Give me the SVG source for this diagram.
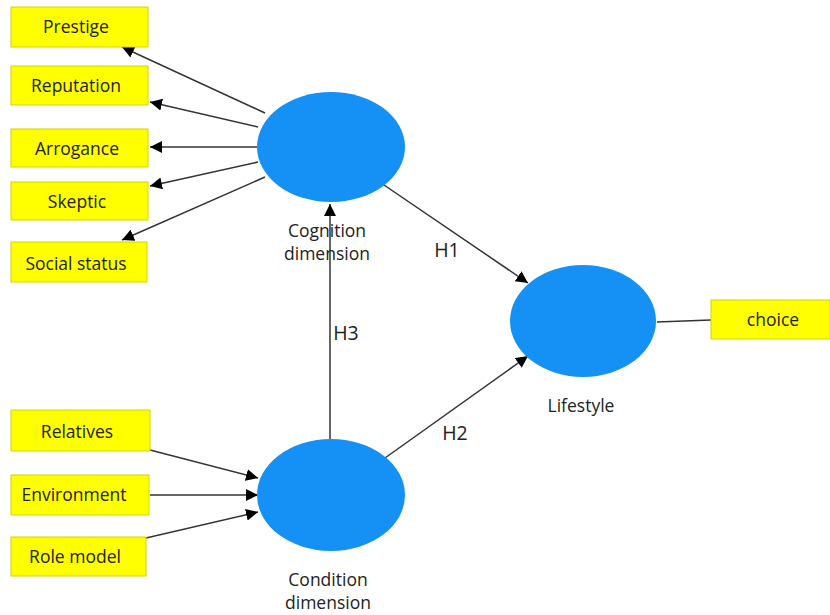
<svg xmlns="http://www.w3.org/2000/svg" width="830" height="615" viewBox="0 0 830 615">
<style>
.box{fill:#ffff00;stroke:#d4d400;stroke-width:1}
.lv{fill:#1590f5}
.t{font-family:"Open Sans","Noto Sans",sans-serif;font-size:17.5px;fill:#222;text-anchor:middle}
.h{font-size:19.5px}
.c{stroke:#333;stroke-width:1.5;fill:none}
</style>
<defs>
<marker id="ah" viewBox="0 0 10 10" refX="10" refY="5" markerWidth="12" markerHeight="12" markerUnits="userSpaceOnUse" orient="auto">
<path d="M0,0 L10,5 L0,10 z" fill="#000"/>
</marker>
</defs>
<rect width="830" height="615" fill="#fff"/>
<g id="connectors">
<line class="c" x1="265" y1="113" x2="122" y2="47" marker-end="url(#ah)"/>
<line class="c" x1="258" y1="127" x2="150" y2="102" marker-end="url(#ah)"/>
<line class="c" x1="257" y1="147" x2="150" y2="147" marker-end="url(#ah)"/>
<line class="c" x1="258" y1="162" x2="150" y2="186" marker-end="url(#ah)"/>
<line class="c" x1="265" y1="177" x2="122" y2="240" marker-end="url(#ah)"/>
<line class="c" x1="330" y1="439" x2="330" y2="204" marker-end="url(#ah)"/>
<line class="c" x1="384" y1="185" x2="528" y2="283" marker-end="url(#ah)"/>
<line class="c" x1="385" y1="458" x2="528" y2="356" marker-end="url(#ah)"/>
<line class="c" x1="657" y1="322" x2="711" y2="320"/>
<line class="c" x1="150" y1="450" x2="258" y2="478" marker-end="url(#ah)"/>
<line class="c" x1="150" y1="495" x2="258" y2="495" marker-end="url(#ah)"/>
<line class="c" x1="146" y1="538" x2="258" y2="512" marker-end="url(#ah)"/>
</g>
<g id="prestige"><rect class="box" x="11" y="7" width="137" height="40"/><text class="t" x="76" y="33">Prestige</text></g>
<g id="reputation"><rect class="box" x="11" y="66" width="137" height="39"/><text class="t" x="76" y="92">Reputation</text></g>
<g id="arrogance"><rect class="box" x="11" y="129" width="137" height="38"/><text class="t" x="77" y="155">Arrogance</text></g>
<g id="skeptic"><rect class="box" x="11" y="182" width="137" height="38"/><text class="t" x="77" y="208">Skeptic</text></g>
<g id="social-status"><rect class="box" x="11" y="242" width="136" height="40"/><text class="t" x="76" y="270">Social status</text></g>
<g id="relatives"><rect class="box" x="11" y="410" width="139" height="41"/><text class="t" x="77" y="438">Relatives</text></g>
<g id="environment"><rect class="box" x="11" y="475" width="138" height="40"/><text class="t" x="74" y="501">Environment</text></g>
<g id="role-model"><rect class="box" x="11" y="537" width="135" height="39"/><text class="t" x="75" y="563">Role model</text></g>
<g id="choice"><rect class="box" x="711" y="300" width="119" height="39"/><text class="t" x="773" y="326">choice</text></g>
<g id="cognition"><ellipse class="lv" cx="331" cy="147" rx="74" ry="55"/><text class="t" x="327" y="237">Cognition</text><text class="t" x="327" y="260">dimension</text></g>
<g id="lifestyle"><ellipse class="lv" cx="583" cy="321" rx="73" ry="56"/><text class="t" x="581" y="412">Lifestyle</text></g>
<g id="condition"><ellipse class="lv" cx="331" cy="495" rx="74" ry="56"/><text class="t" x="328" y="586">Condition</text><text class="t" x="328" y="609">dimension</text></g>
<g id="labels">
<text class="t h" x="447" y="257">H1</text>
<text class="t h" x="346" y="340">H3</text>
<text class="t h" x="455" y="440">H2</text>
</g>
</svg>
